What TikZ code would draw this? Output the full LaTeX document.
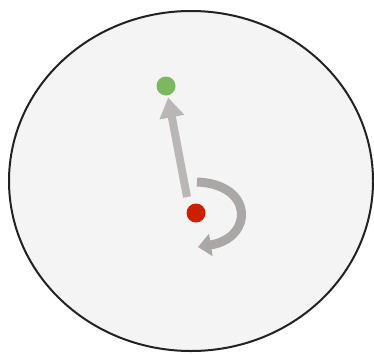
\documentclass[tikz,border=0pt]{standalone}
\usepackage{xcolor}
\usetikzlibrary{arrows.meta,shapes.geometric}
\definecolor{ringfill}{HTML}{F4F4F4}
\definecolor{ringline}{HTML}{222222}
\definecolor{pushgray}{HTML}{BAB6B6}
\definecolor{spingray}{HTML}{ABA7A7}
\definecolor{goalgreen}{HTML}{7EB85E}
\definecolor{bodyred}{HTML}{CC1F00}
\tikzset{
  ring/.style={ellipse, draw=ringline, fill=ringfill, line width=2pt, minimum width=364pt, minimum height=340pt, inner sep=0pt},
  dot/.style={circle, inner sep=0pt, minimum size=19pt},
  pusharr/.style={-{Triangle[length=20pt,width=24pt]}, line width=8pt, draw=pushgray},
  spinarr/.style={-{Triangle[length=13pt,width=22pt]}, line width=9pt, draw=spingray},
}
\begin{document}
\begin{tikzpicture}[x=1pt, y=-1pt]
  \useasboundingbox (0,0) rectangle (374,354);
  \node[ring] (arena) at (191,181) {};
  \node[dot, fill=goalgreen] (goal) at (166,86) {};
  \node[dot, fill=bodyred] (body) at (196,213) {};
  \coordinate (push) at (187,197);
  \coordinate (spin) at (197,182);
  \coordinate (spinend) at (198,247);
  \draw[pusharr, shorten >=2pt] (push) -- (goal);
  \draw[spinarr] (spin) .. controls (254,184) and (254,238) .. (spinend);
\end{tikzpicture}
\end{document}
